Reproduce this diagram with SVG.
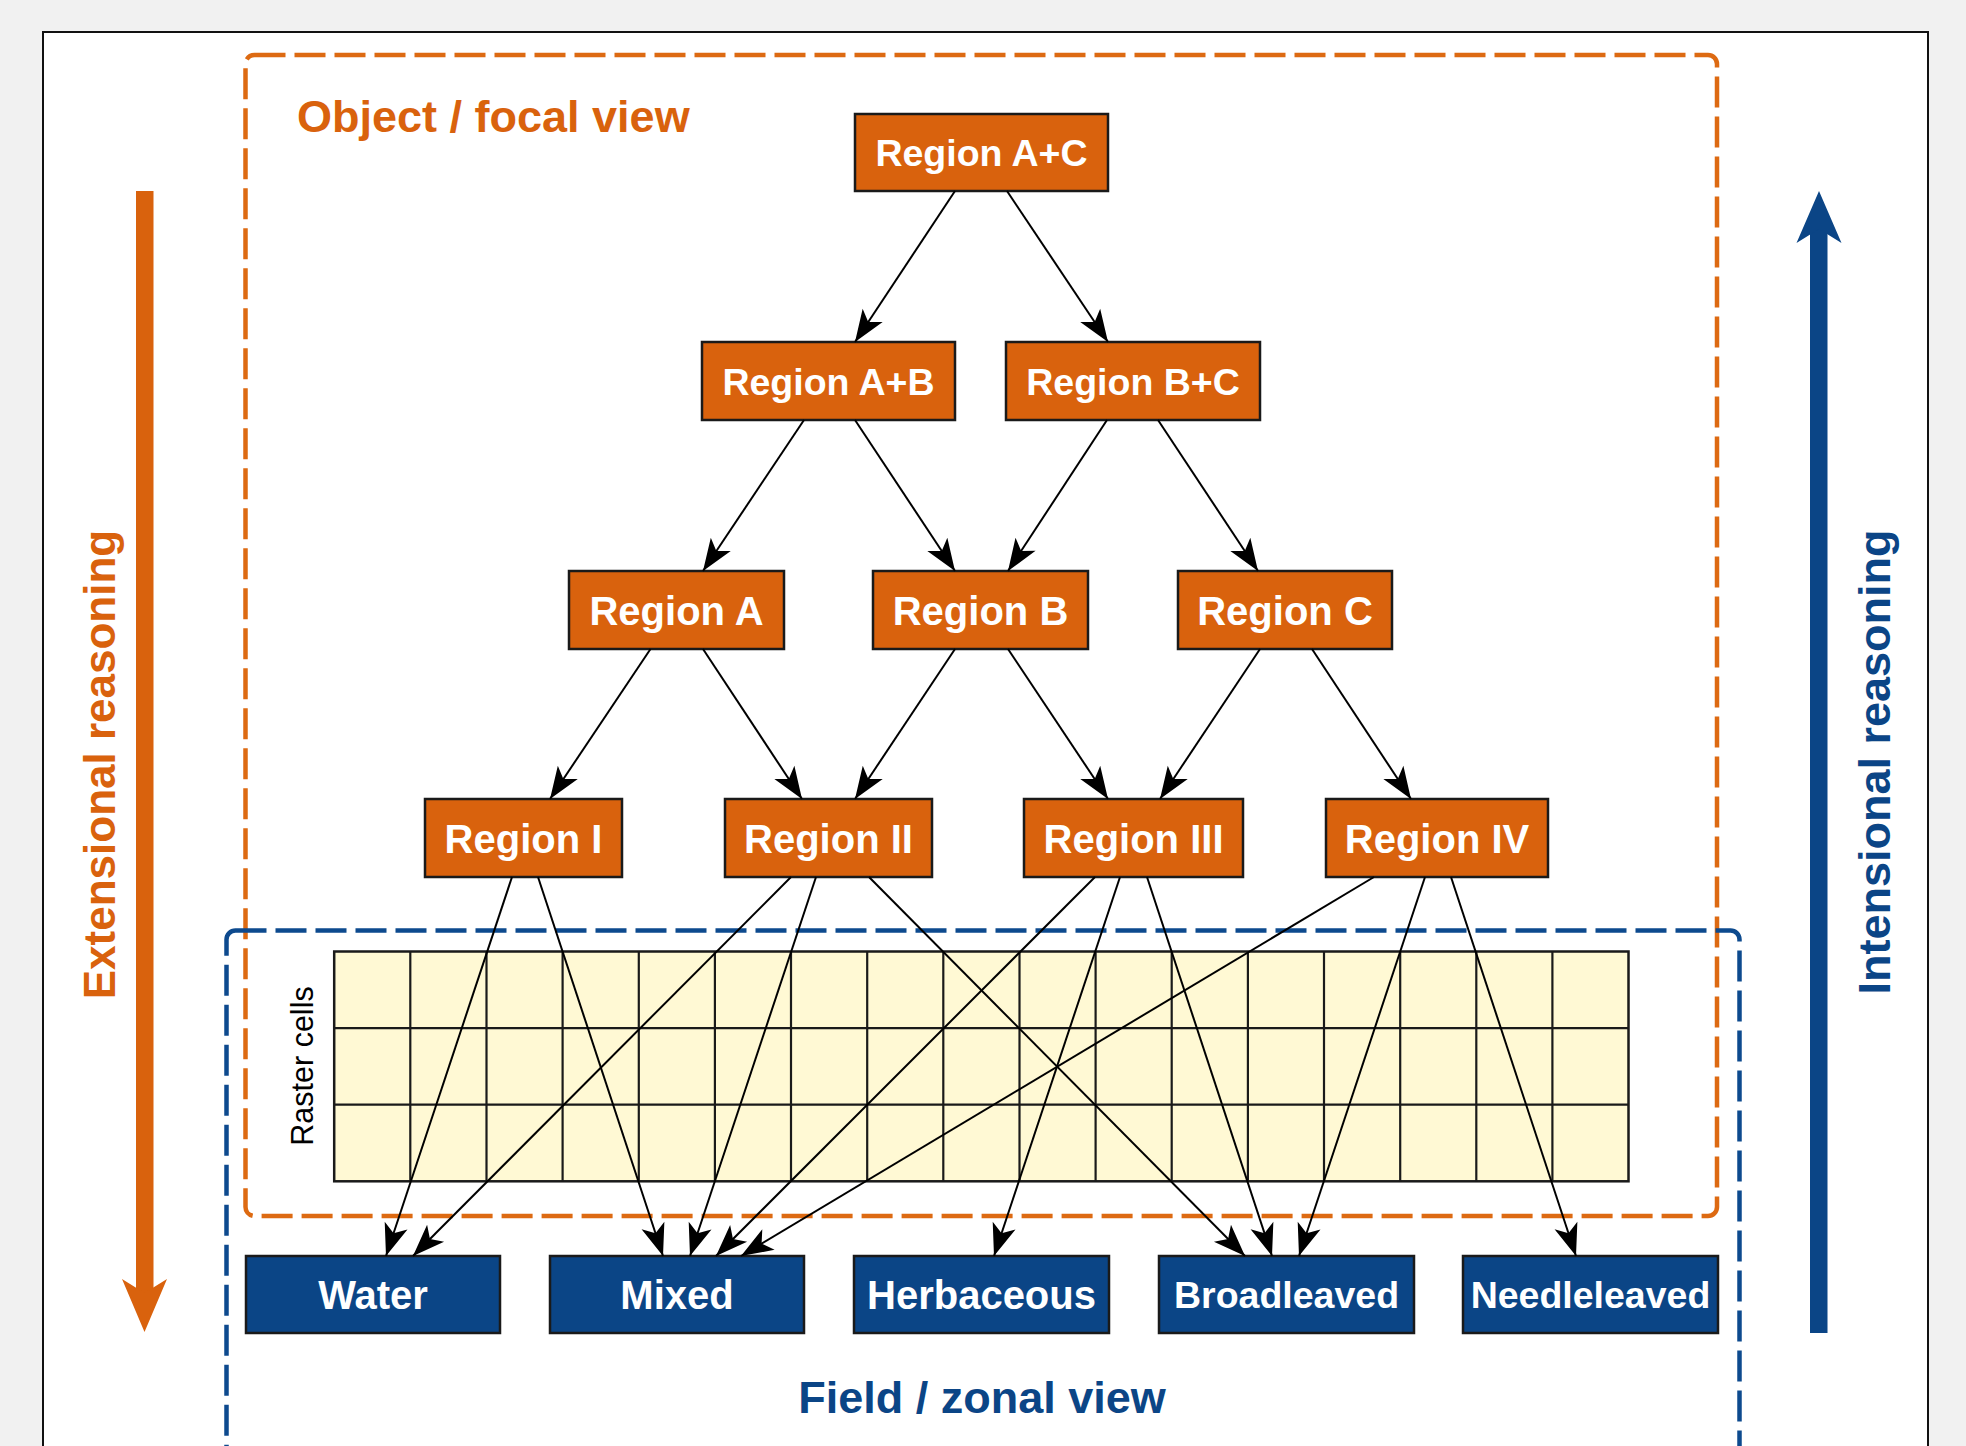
<svg xmlns="http://www.w3.org/2000/svg" width="1966" height="1446" viewBox="0 0 1966 1446">
<defs>
<style>
.obj rect{fill:#D9620D;stroke:#1a1a1a;stroke-width:2.5}
.fld rect{fill:#0B4586;stroke:#1a1a1a;stroke-width:2.5}
.lbl{font-family:"Liberation Sans",Arial,sans-serif;font-weight:bold;fill:#fff;text-anchor:middle}
.f40{font-size:40px}
.f37{font-size:37.5px}
.edge line{stroke:#000;stroke-width:2;fill:none;marker-end:url(#arr)}
.grid rect{fill:#FFF9D4;stroke:#1a1a1a;stroke-width:2.5}
.grid line{stroke:#1a1a1a;stroke-width:2.2}
</style>
<marker id="arr" viewBox="-33 -14 35 28" refX="0" refY="0" markerWidth="35" markerHeight="28" markerUnits="userSpaceOnUse" orient="auto">
<path d="M0,0 L-32,-12 L-24,0 L-32,12 Z" fill="#000"/>
</marker>
</defs>
<rect x="0" y="0" width="1966" height="1446" fill="#F1F1F1"/>
<rect x="43" y="32" width="1885" height="1440" fill="#fff" stroke="#111" stroke-width="2"/>

<g id="object-view-frame">
<rect x="245.5" y="55" width="1471.5" height="1161" rx="9" fill="none" stroke="#DD6A12" stroke-width="4.5" stroke-dasharray="31 9"/>
<text x="297" y="132" font-family="Liberation Sans, Arial, sans-serif" font-weight="bold" font-size="45" fill="#D9620D">Object / focal view</text>
</g>
<g id="field-view-frame">
<rect x="226.5" y="930.5" width="1513" height="530" rx="9" fill="none" stroke="#0D4A8E" stroke-width="4.5" stroke-dasharray="31 9"/>
<text x="982" y="1413" font-family="Liberation Sans, Arial, sans-serif" font-weight="bold" font-size="45" fill="#0B4586" text-anchor="middle">Field / zonal view</text>
</g>

<g id="raster-grid" class="grid">
<rect x="334.2" y="951.5" width="1294.3" height="229.8"/>
<line x1="334.2" y1="1028.1" x2="1628.5" y2="1028.1"/>
<line x1="334.2" y1="1104.7" x2="1628.5" y2="1104.7"/>
<line x1="410.3" y1="951.5" x2="410.3" y2="1181.3"/>
<line x1="486.5" y1="951.5" x2="486.5" y2="1181.3"/>
<line x1="562.6" y1="951.5" x2="562.6" y2="1181.3"/>
<line x1="638.8" y1="951.5" x2="638.8" y2="1181.3"/>
<line x1="714.9" y1="951.5" x2="714.9" y2="1181.3"/>
<line x1="791.0" y1="951.5" x2="791.0" y2="1181.3"/>
<line x1="867.2" y1="951.5" x2="867.2" y2="1181.3"/>
<line x1="943.3" y1="951.5" x2="943.3" y2="1181.3"/>
<line x1="1019.5" y1="951.5" x2="1019.5" y2="1181.3"/>
<line x1="1095.6" y1="951.5" x2="1095.6" y2="1181.3"/>
<line x1="1171.7" y1="951.5" x2="1171.7" y2="1181.3"/>
<line x1="1247.9" y1="951.5" x2="1247.9" y2="1181.3"/>
<line x1="1324.0" y1="951.5" x2="1324.0" y2="1181.3"/>
<line x1="1400.2" y1="951.5" x2="1400.2" y2="1181.3"/>
<line x1="1476.3" y1="951.5" x2="1476.3" y2="1181.3"/>
<line x1="1552.4" y1="951.5" x2="1552.4" y2="1181.3"/>
<text transform="translate(313,1066) rotate(-90)" font-family="Liberation Sans, Arial, sans-serif" font-size="30.5" fill="#000" text-anchor="middle">Raster cells</text>
</g>

<g id="n-ac" class="obj"><rect x="855" y="114" width="253" height="77"/><text class="lbl f37" x="981.5" y="166">Region A+C</text></g>
<g id="n-ab" class="obj"><rect x="702" y="342" width="253" height="78"/><text class="lbl f37" x="828.5" y="394.5">Region A+B</text></g>
<g id="n-bc" class="obj"><rect x="1006" y="342" width="254" height="78"/><text class="lbl f37" x="1133" y="394.5">Region B+C</text></g>
<g id="n-a" class="obj"><rect x="569" y="571" width="215" height="78"/><text class="lbl f40" x="676.5" y="624.5">Region A</text></g>
<g id="n-b" class="obj"><rect x="873" y="571" width="215" height="78"/><text class="lbl f40" x="980.5" y="624.5">Region B</text></g>
<g id="n-c" class="obj"><rect x="1178" y="571" width="214" height="78"/><text class="lbl f40" x="1285" y="624.5">Region C</text></g>
<g id="n-i" class="obj"><rect x="425" y="799" width="197" height="78"/><text class="lbl f40" x="523.5" y="852.5">Region I</text></g>
<g id="n-ii" class="obj"><rect x="725" y="799" width="207" height="78"/><text class="lbl f40" x="828.5" y="852.5">Region II</text></g>
<g id="n-iii" class="obj"><rect x="1024" y="799" width="219" height="78"/><text class="lbl f40" x="1133.5" y="852.5">Region III</text></g>
<g id="n-iv" class="obj"><rect x="1326" y="799" width="222" height="78"/><text class="lbl f40" x="1437" y="852.5">Region IV</text></g>

<g id="n-water" class="fld"><rect x="246" y="1256" width="254" height="77"/><text class="lbl f40" x="373" y="1309">Water</text></g>
<g id="n-mixed" class="fld"><rect x="550" y="1256" width="254" height="77"/><text class="lbl f40" x="677" y="1309">Mixed</text></g>
<g id="n-herb" class="fld"><rect x="854" y="1256" width="255" height="77"/><text class="lbl f40" x="981.5" y="1309">Herbaceous</text></g>
<g id="n-broad" class="fld"><rect x="1159" y="1256" width="255" height="77"/><text class="lbl f37" x="1286.5" y="1308">Broadleaved</text></g>
<g id="n-needle" class="fld"><rect x="1463" y="1256" width="255" height="77"/><text class="lbl f37" x="1590.5" y="1308">Needleleaved</text></g>

<g id="connectors" class="edge">
<line x1="955" y1="191" x2="855" y2="342"/>
<line x1="1007" y1="191" x2="1108" y2="342"/>
<line x1="804" y1="420" x2="703" y2="571"/>
<line x1="855" y1="420" x2="955" y2="571"/>
<line x1="1107" y1="420" x2="1008" y2="571"/>
<line x1="1158" y1="420" x2="1258" y2="571"/>
<line x1="650.5" y1="649" x2="550" y2="799"/>
<line x1="703" y1="649" x2="802" y2="799"/>
<line x1="955" y1="649" x2="855" y2="799"/>
<line x1="1008" y1="649" x2="1108" y2="799"/>
<line x1="1260" y1="649" x2="1160" y2="799"/>
<line x1="1312" y1="649" x2="1411" y2="799"/>
<line x1="512" y1="877" x2="386" y2="1256"/>
<line x1="538" y1="877" x2="663" y2="1256"/>
<line x1="791" y1="877" x2="413" y2="1256"/>
<line x1="816" y1="877" x2="690" y2="1256"/>
<line x1="869" y1="877" x2="1245" y2="1256"/>
<line x1="1095" y1="877" x2="716" y2="1256"/>
<line x1="1120" y1="877" x2="994" y2="1256"/>
<line x1="1147" y1="877" x2="1272" y2="1256"/>
<line x1="1374" y1="877" x2="741" y2="1256"/>
<line x1="1425" y1="877" x2="1299" y2="1256"/>
<line x1="1451" y1="877" x2="1576" y2="1256"/>
</g>

<g id="extensional">
<rect x="136" y="191" width="17.5" height="1110" fill="#D9620D"/>
<path d="M144.5,1332 L122,1279 L144.5,1293 L167,1279 Z" fill="#D9620D"/>
<text transform="translate(115,764.5) rotate(-90)" font-family="Liberation Sans, Arial, sans-serif" font-weight="bold" font-size="44" fill="#D9620D" text-anchor="middle">Extensional reasoning</text>
</g>
<g id="intensional">
<rect x="1810" y="222" width="17.5" height="1111" fill="#0B4586"/>
<path d="M1819,191 L1796.5,243 L1819,229 L1841.5,243 Z" fill="#0B4586"/>
<text transform="translate(1890,762) rotate(-90)" font-family="Liberation Sans, Arial, sans-serif" font-weight="bold" font-size="45" fill="#0B4586" text-anchor="middle">Intensional reasoning</text>
</g>
</svg>
